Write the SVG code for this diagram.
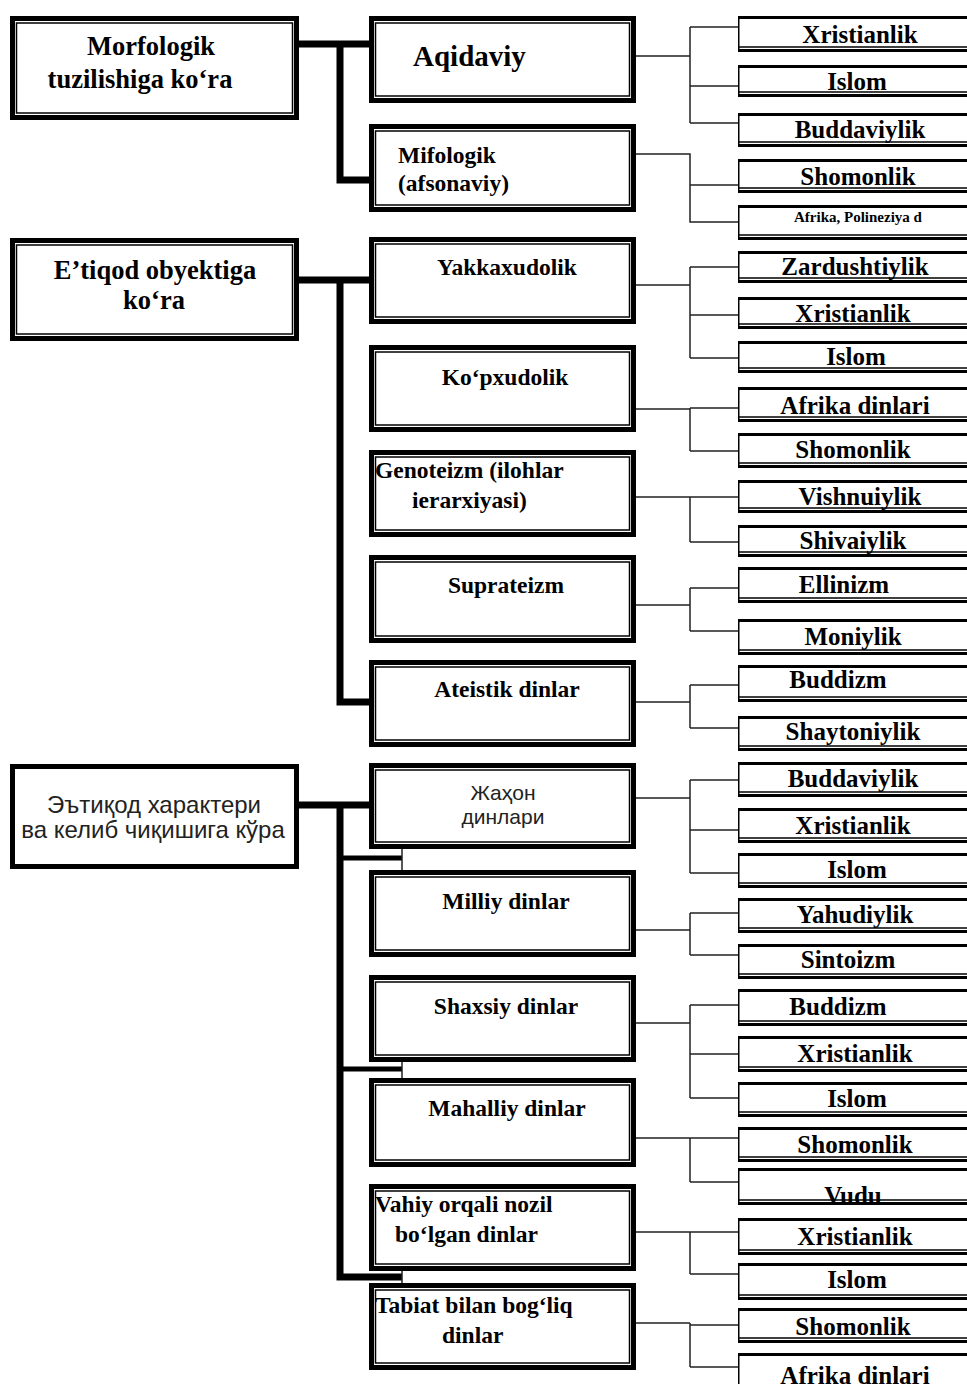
<svg xmlns="http://www.w3.org/2000/svg" width="967" height="1384" viewBox="0 0 967 1384">
<style>
.ob{fill:#fff;stroke:#000;stroke-width:5}
.ib{fill:none;stroke:#000;stroke-width:1.5}
.rf{fill:#fff}
.rk{fill:none;stroke:#000;stroke-width:3}
.rn{fill:none;stroke:#000;stroke-width:1.5}
.t{font-family:"Liberation Serif","Times New Roman",serif;font-weight:bold;fill:#000}
.m{font-size:23.5px}
.r{font-size:25px;text-anchor:middle}
.c{text-anchor:middle}
.s{font-family:"Liberation Sans",Arial,sans-serif;fill:#222;text-anchor:middle}
.thk{stroke:#000;stroke-width:7;fill:none}
.mid{stroke:#000;stroke-width:5;fill:none}
.thn{stroke:#222;stroke-width:1.5;fill:none}
</style>
<rect width="967" height="1384" fill="#fff"/>
<g id="connectors">
<path class="thk" d="M299,44H369M340,44V180H369"/>
<path class="thk" d="M299,280H369M340,280V702H369"/>
<path class="thk" d="M299,805H369M340,805V1277H402"/>
<path class="mid" d="M340,858H402M340,1069H402"/>
<path class="thn" d="M402,849V870M402,1062V1078M402,1271V1283"/>
<path class="thn" d="M636,56H690M690,27V123M690,27H738M690,86H738M690,123H738"/>
<path class="thn" d="M636,154H690V222H738M690,185H738"/>
<path class="thn" d="M636,285H690M690,267V358M690,267H738M690,315H738M690,358H738"/>
<path class="thn" d="M636,409H690M690,408V451M690,408H738M690,451H738"/>
<path class="thn" d="M636,497H690M690,497V542M690,497H738M690,542H738"/>
<path class="thn" d="M636,605H690M690,588V631M690,588H738M690,631H738"/>
<path class="thn" d="M636,702H690M690,685V728M690,685H738M690,728H738"/>
<path class="thn" d="M636,798H690M690,780V873M690,780H738M690,830H738M690,873H738"/>
<path class="thn" d="M636,930H690M690,913V955M690,913H738M690,955H738"/>
<path class="thn" d="M636,1023H690M690,1005V1098M690,1005H738M690,1054H738M690,1098H738"/>
<path class="thn" d="M636,1138H690M690,1138V1182M690,1138H738M690,1182H738"/>
<path class="thn" d="M636,1232H690M690,1232V1274M690,1232H738M690,1274H738"/>
<path class="thn" d="M636,1323H690M690,1323V1367M690,1367H738M690,1325H738"/>
</g>
<g id="L1"><rect class="ob" x="12.5" y="18.5" width="284" height="99"/><rect class="ib" x="16.5" y="23" width="276" height="90"/>
<text class="t c" x="151" y="55" font-size="26.5">Morfologik</text><text class="t c" x="140" y="88" font-size="26.5">tuzilishiga ko‘ra</text></g>
<g id="L2"><rect class="ob" x="12.5" y="240.5" width="284" height="98"/><rect class="ib" x="16.5" y="245" width="276" height="89"/>
<text class="t c" x="155" y="279" font-size="26.5">E’tiqod obyektiga</text><text class="t c" x="154" y="309" font-size="26.5">ko‘ra</text></g>
<g id="L3"><rect class="ob" x="12.5" y="766.5" width="284" height="100"/>
<text class="s" x="154" y="813" font-size="24">Эътиқод характери</text><text class="s" x="153" y="838" font-size="24">ва келиб чиқишига кўра</text></g>

<g id="M1"><rect class="ob" x="371.5" y="18.5" width="262" height="82"/><rect class="ib" x="375.5" y="23" width="254" height="73"/><text class="t" x="413" y="66" font-size="29">Aqidaviy</text></g>
<g id="M2"><rect class="ob" x="371.5" y="126.5" width="262" height="83"/><rect class="ib" x="375.5" y="131" width="254" height="74"/><text class="t m" x="398" y="163">Mifologik</text><text class="t m" x="398" y="191">(afsonaviy)</text></g>
<g id="M3"><rect class="ob" x="371.5" y="239.5" width="262" height="82"/><rect class="ib" x="375.5" y="244" width="254" height="73"/><text class="t m c" x="507" y="275">Yakkaxudolik</text></g>
<g id="M4"><rect class="ob" x="371.5" y="347.5" width="262" height="82"/><rect class="ib" x="375.5" y="352" width="254" height="73"/><text class="t m c" x="505" y="385">Ko‘pxudolik</text></g>
<g id="M5"><rect class="ob" x="371.5" y="452.5" width="262" height="82"/><rect class="ib" x="375.5" y="457" width="254" height="73"/><text class="t m" x="375" y="478">Genoteizm (ilohlar</text><text class="t m" x="412" y="508">ierarxiyasi)</text></g>
<g id="M6"><rect class="ob" x="371.5" y="557.5" width="262" height="83"/><rect class="ib" x="375.5" y="562" width="254" height="74"/><text class="t m c" x="506" y="593">Suprateizm</text></g>
<g id="M7"><rect class="ob" x="371.5" y="662.5" width="262" height="82"/><rect class="ib" x="375.5" y="667" width="254" height="73"/><text class="t m c" x="507" y="697">Ateistik dinlar</text></g>
<g id="M8"><rect class="ob" x="371.5" y="765.5" width="262" height="81"/><rect class="ib" x="375.5" y="770" width="254" height="72"/><text class="s" x="503" y="800" font-size="21" fill="#444">Жаҳон</text><text class="s" x="503" y="824" font-size="21">динлари</text></g>
<g id="M9"><rect class="ob" x="371.5" y="872.5" width="262" height="82"/><rect class="ib" x="375.5" y="877" width="254" height="73"/><text class="t m c" x="506" y="909">Milliy dinlar</text></g>
<g id="M10"><rect class="ob" x="371.5" y="977.5" width="262" height="82"/><rect class="ib" x="375.5" y="982" width="254" height="73"/><text class="t m c" x="506" y="1014">Shaxsiy dinlar</text></g>
<g id="M11"><rect class="ob" x="371.5" y="1080.5" width="262" height="84"/><rect class="ib" x="375.5" y="1085" width="254" height="75"/><text class="t m c" x="507" y="1116">Mahalliy dinlar</text></g>
<g id="M12"><rect class="ob" x="371.5" y="1186.5" width="262" height="82"/><rect class="ib" x="375.5" y="1191" width="254" height="73"/><text class="t m" x="375" y="1212">Vahiy orqali nozil</text><text class="t m" x="395" y="1242">bo‘lgan dinlar</text></g>
<g id="M13"><rect class="ob" x="371.5" y="1285.5" width="262" height="82"/><rect class="ib" x="375.5" y="1290" width="254" height="73"/><text class="t m" x="375" y="1313">Tabiat bilan bog‘liq</text><text class="t m" x="442" y="1343">dinlar</text></g>

<g id="R1"><rect class="rf" x="738" y="16" width="229" height="36"/><text class="t r" x="860" y="43">Xristianlik</text><path class="rk" d="M738,17.5H967M738,50.5H967"/><path class="rn" d="M738.75,16V52M738,47H967"/></g>
<g id="R2"><rect class="rf" x="738" y="65" width="229" height="32"/><text class="t r" x="857" y="90">Islom</text><path class="rk" d="M738,66.5H967M738,95.5H967"/><path class="rn" d="M738.75,65V97M738,92H967"/></g>
<g id="R3"><rect class="rf" x="738" y="113" width="229" height="34"/><text class="t r" x="860" y="138">Buddaviylik</text><path class="rk" d="M738,114.5H967M738,145.5H967"/><path class="rn" d="M738.75,113V147M738,142H967"/></g>
<g id="R4"><rect class="rf" x="738" y="159" width="229" height="34"/><text class="t r" x="858" y="185">Shomonlik</text><path class="rk" d="M738,160.5H967M738,191.5H967"/><path class="rn" d="M738.75,159V193M738,188H967"/></g>
<g id="R5"><rect class="rf" x="738" y="205" width="229" height="35"/><text class="t c" x="858" y="222" font-size="15">Afrika, Polineziya d</text><path class="rk" d="M738,206.5H967M738,238.5H967"/><path class="rn" d="M738.75,205V240M738,235H967"/></g>
<g id="R6"><rect class="rf" x="738" y="251" width="229" height="32"/><text class="t r" x="855" y="275">Zardushtiylik</text><path class="rk" d="M738,252.5H967M738,281.5H967"/><path class="rn" d="M738.75,251V283M738,278H967"/></g>
<g id="R7"><rect class="rf" x="738" y="297" width="229" height="32"/><text class="t r" x="853" y="322">Xristianlik</text><path class="rk" d="M738,298.5H967M738,327.5H967"/><path class="rn" d="M738.75,297V329M738,324H967"/></g>
<g id="R8"><rect class="rf" x="738" y="341" width="229" height="32"/><text class="t r" x="856" y="365">Islom</text><path class="rk" d="M738,342.5H967M738,371.5H967"/><path class="rn" d="M738.75,341V373M738,368H967"/></g>
<g id="R9"><rect class="rf" x="738" y="387" width="229" height="35"/><text class="t r" x="855" y="414">Afrika dinlari</text><path class="rk" d="M738,388.5H967M738,420.5H967"/><path class="rn" d="M738.75,387V422M738,417H967"/></g>
<g id="R10"><rect class="rf" x="738" y="433" width="229" height="35"/><text class="t r" x="853" y="458">Shomonlik</text><path class="rk" d="M738,434.5H967M738,466.5H967"/><path class="rn" d="M738.75,433V468M738,463H967"/></g>
<g id="R11"><rect class="rf" x="738" y="480" width="229" height="33"/><text class="t r" x="860" y="505">Vishnuiylik</text><path class="rk" d="M738,481.5H967M738,511.5H967"/><path class="rn" d="M738.75,480V513M738,508H967"/></g>
<g id="R12"><rect class="rf" x="738" y="525" width="229" height="32"/><text class="t r" x="853" y="549">Shivaiylik</text><path class="rk" d="M738,526.5H967M738,555.5H967"/><path class="rn" d="M738.75,525V557M738,552H967"/></g>
<g id="R13"><rect class="rf" x="738" y="567" width="229" height="36"/><text class="t r" x="844" y="593">Ellinizm</text><path class="rk" d="M738,568.5H967M738,601.5H967"/><path class="rn" d="M738.75,567V603M738,598H967"/></g>
<g id="R14"><rect class="rf" x="738" y="619" width="229" height="36"/><text class="t r" x="853" y="645">Moniylik</text><path class="rk" d="M738,620.5H967M738,653.5H967"/><path class="rn" d="M738.75,619V655M738,650H967"/></g>
<g id="R15"><rect class="rf" x="738" y="665" width="229" height="37"/><text class="t r" x="838" y="688">Buddizm</text><path class="rk" d="M738,666.5H967M738,700.5H967"/><path class="rn" d="M738.75,665V702M738,697H967"/></g>
<g id="R16"><rect class="rf" x="738" y="716" width="229" height="35"/><text class="t r" x="853" y="740">Shaytoniylik</text><path class="rk" d="M738,717.5H967M738,749.5H967"/><path class="rn" d="M738.75,716V751M738,746H967"/></g>
<g id="R17"><rect class="rf" x="738" y="762" width="229" height="35"/><text class="t r" x="853" y="787">Buddaviylik</text><path class="rk" d="M738,763.5H967M738,795.5H967"/><path class="rn" d="M738.75,762V797M738,792H967"/></g>
<g id="R18"><rect class="rf" x="738" y="808" width="229" height="35"/><text class="t r" x="853" y="834">Xristianlik</text><path class="rk" d="M738,809.5H967M738,841.5H967"/><path class="rn" d="M738.75,808V843M738,838H967"/></g>
<g id="R19"><rect class="rf" x="738" y="853" width="229" height="35"/><text class="t r" x="857" y="878">Islom</text><path class="rk" d="M738,854.5H967M738,886.5H967"/><path class="rn" d="M738.75,853V888M738,883H967"/></g>
<g id="R20"><rect class="rf" x="738" y="898" width="229" height="35"/><text class="t r" x="855" y="923">Yahudiylik</text><path class="rk" d="M738,899.5H967M738,931.5H967"/><path class="rn" d="M738.75,898V933M738,928H967"/></g>
<g id="R21"><rect class="rf" x="738" y="944" width="229" height="35"/><text class="t r" x="848" y="968">Sintoizm</text><path class="rk" d="M738,945.5H967M738,977.5H967"/><path class="rn" d="M738.75,944V979M738,974H967"/></g>
<g id="R22"><rect class="rf" x="738" y="989" width="229" height="37"/><text class="t r" x="838" y="1015">Buddizm</text><path class="rk" d="M738,990.5H967M738,1024.5H967"/><path class="rn" d="M738.75,989V1026M738,1021H967"/></g>
<g id="R23"><rect class="rf" x="738" y="1036" width="229" height="36"/><text class="t r" x="855" y="1062">Xristianlik</text><path class="rk" d="M738,1037.5H967M738,1070.5H967"/><path class="rn" d="M738.75,1036V1072M738,1067H967"/></g>
<g id="R24"><rect class="rf" x="738" y="1082" width="229" height="35"/><text class="t r" x="857" y="1107">Islom</text><path class="rk" d="M738,1083.5H967M738,1115.5H967"/><path class="rn" d="M738.75,1082V1117M738,1112H967"/></g>
<g id="R25"><rect class="rf" x="738" y="1127" width="229" height="35"/><text class="t r" x="855" y="1153">Shomonlik</text><path class="rk" d="M738,1128.5H967M738,1160.5H967"/><path class="rn" d="M738.75,1127V1162M738,1157H967"/></g>
<g id="R26"><rect class="rf" x="738" y="1168" width="229" height="37"/><text class="t r" x="853" y="1204">Vudu</text><path class="rk" d="M738,1169.5H967M738,1203.5H967"/><path class="rn" d="M738.75,1168V1205M738,1200H967"/></g>
<g id="R27"><rect class="rf" x="738" y="1218" width="229" height="37"/><text class="t r" x="855" y="1245">Xristianlik</text><path class="rk" d="M738,1219.5H967M738,1253.5H967"/><path class="rn" d="M738.75,1218V1255M738,1250H967"/></g>
<g id="R28"><rect class="rf" x="738" y="1263" width="229" height="37"/><text class="t r" x="857" y="1288">Islom</text><path class="rk" d="M738,1264.5H967M738,1298.5H967"/><path class="rn" d="M738.75,1263V1300M738,1295H967"/></g>
<g id="R29"><rect class="rf" x="738" y="1308" width="229" height="35"/><text class="t r" x="853" y="1335">Shomonlik</text><path class="rk" d="M738,1309.5H967M738,1341.5H967"/><path class="rn" d="M738.75,1308V1343M738,1338H967"/></g>
<g id="R30"><rect class="rf" x="738" y="1353" width="229" height="31"/><text class="t r" x="855" y="1384">Afrika dinlari</text><path class="rk" d="M738,1354.5H967"/><path class="rn" d="M738.75,1353V1384"/></g>
</svg>
